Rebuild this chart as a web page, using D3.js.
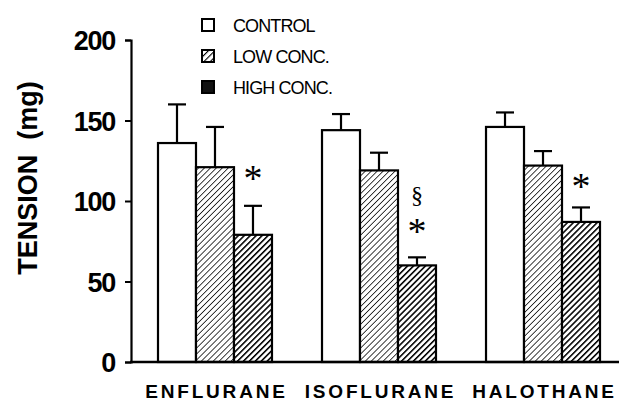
<!DOCTYPE html>
<html>
<head>
<meta charset="utf-8">
<script src="https://cdn.jsdelivr.net/npm/d3@7"></script>
<style>
  body { margin: 0; background: #fff; }
  svg { display: block; }
</style>
</head>
<body>
<div id="chart"></div>
<script>
// data
var drugs = ["ENFLURANE", "ISOFLURANE", "HALOTHANE"];
var series = ["CONTROL", "LOW CONC.", "HIGH CONC."];
var control = [136, 144, 146];
var controlErr = [24, 10, 9];
var low = [121, 119, 122];
var lowErr = [25, 11, 9];
var high = [79, 60, 87];
var highErr = [18, 5, 9];
var yTicks = [0, 50, 100, 150, 200];
// significance marks: [drug index, symbol, value at mark centre]
var marks = [[0, "*", 117], [1, "§", 104], [1, "*", 84], [2, "*", 112]];

var W = 619, H = 402;
var svg = d3.select("#chart").append("svg")
    .attr("width", W).attr("height", H);

var defs = svg.append("defs");
function hatch(id, gap, sw, bg) {
  var p = defs.append("pattern").attr("id", id)
      .attr("patternUnits", "userSpaceOnUse")
      .attr("width", gap).attr("height", gap)
      .attr("patternTransform", "rotate(45)");
  p.append("rect").attr("width", gap).attr("height", gap).attr("fill", bg);
  p.append("line").attr("x1", 0).attr("y1", 0).attr("x2", 0).attr("y2", gap)
      .attr("stroke", "#000").attr("stroke-width", sw);
}
hatch("lowPat", 4.2, 1.5, "#fff");
hatch("highPat", 4.2, 3.1, "#fff");
hatch("lowLeg", 4.5, 2.2, "#fff");

var fills = ["#fff", "url(#lowPat)", "url(#highPat)"];

var y = d3.scaleLinear().domain([0, 200]).range([362, 40]);
var x0 = d3.scaleBand().domain(drugs).range([158, 600]).paddingInner(0.305);
var x1 = d3.scaleBand().domain(series).range([0, x0.bandwidth()]);

// rows of values per drug
var rows = drugs.map(function(d, i) {
  return [
    {drug: d, s: series[0], v: control[i], e: controlErr[i]},
    {drug: d, s: series[1], v: low[i], e: lowErr[i]},
    {drug: d, s: series[2], v: high[i], e: highErr[i]}
  ];
});

var g = svg.append("g");
var grp = g.selectAll(".grp").data(rows).enter().append("g")
    .attr("transform", function(d, i) { return "translate(" + x0(drugs[i]) + ",0)"; });

grp.selectAll("rect").data(function(d) { return d; }).enter().append("rect")
    .attr("x", function(d) { return x1(d.s); })
    .attr("y", function(d) { return y(d.v); })
    .attr("width", x1.bandwidth())
    .attr("height", function(d) { return y(0) - y(d.v); })
    .attr("fill", function(d, i) { return fills[i]; })
    .attr("stroke", "#000").attr("stroke-width", 2.2);

// error bars
var eb = grp.selectAll(".err").data(function(d) { return d; }).enter().append("g");
eb.append("line")
    .attr("x1", function(d) { return x1(d.s) + x1.bandwidth() / 2; })
    .attr("x2", function(d) { return x1(d.s) + x1.bandwidth() / 2; })
    .attr("y1", function(d) { return y(d.v); })
    .attr("y2", function(d) { return y(d.v + d.e); })
    .attr("stroke", "#000").attr("stroke-width", 2.2);
eb.append("line")
    .attr("x1", function(d) { return x1(d.s) + x1.bandwidth() / 2 - 9; })
    .attr("x2", function(d) { return x1(d.s) + x1.bandwidth() / 2 + 9; })
    .attr("y1", function(d) { return y(d.v + d.e); })
    .attr("y2", function(d) { return y(d.v + d.e); })
    .attr("stroke", "#000").attr("stroke-width", 2.2);

// axes
var yAxis = svg.append("g").attr("transform", "translate(131,0)")
    .call(d3.axisLeft(y).tickValues(yTicks).tickSize(6).tickPadding(10));
yAxis.select(".domain").attr("stroke-width", 2.2);
yAxis.selectAll(".tick line").attr("stroke-width", 2);
yAxis.selectAll("text")
    .attr("font-family", "Liberation Sans, Arial, sans-serif")
    .attr("font-weight", "bold").attr("font-size", 27)
    .attr("letter-spacing", -1.3)
    .attr("dy", "0.36em");

svg.append("line").attr("x1", 130).attr("x2", 619)
    .attr("y1", y(0)).attr("y2", y(0))
    .attr("stroke", "#000").attr("stroke-width", 2.4);

svg.selectAll(".xl").data(drugs).enter().append("text")
    .attr("x", function(d) { return x0(d) + x0.bandwidth() / 2 + 1.5; })
    .attr("y", 398)
    .attr("text-anchor", "middle")
    .attr("font-family", "Liberation Sans, Arial, sans-serif")
    .attr("font-weight", "bold").attr("font-size", 19)
    .attr("letter-spacing", 2.8)
    .text(function(d) { return d; });

svg.append("text")
    .attr("transform", "translate(37," + 178 + ") rotate(-90)")
    .attr("text-anchor", "middle")
    .attr("font-family", "Liberation Sans, Arial, sans-serif")
    .attr("font-weight", "bold").attr("font-size", 27)
    .attr("xml:space", "preserve")
    .text("TENSION  (mg)");

// significance marks
svg.selectAll(".sig").data(marks).enter().append("text")
    .attr("x", function(d) { return x0(drugs[d[0]]) + x1(series[2]) + x1.bandwidth() / 2; })
    .attr("y", function(d) { return y(d[2]); })
    .attr("text-anchor", "middle")
    .attr("font-family", "Liberation Serif, Times New Roman, serif")
    .attr("font-size", function(d) { return d[1] == "*" ? 38 : 24; })
    .attr("dy", function(d) { return d[1] == "*" ? "0.45em" : "0.35em"; })
    .text(function(d) { return d[1]; });

// legend
var leg = svg.append("g").selectAll("g").data(series).enter().append("g")
    .attr("transform", function(d, i) { return "translate(202," + (19 + i * 31) + ")"; });
var legFills = ["#fff", "url(#lowLeg)", "#111"];
leg.append("rect").attr("width", 12).attr("height", 12)
    .attr("fill", function(d, i) { return legFills[i]; })
    .attr("stroke", "#000").attr("stroke-width", 2);
leg.append("text").attr("x", 31).attr("y", 12.5)
    .attr("font-family", "Liberation Sans, Arial, sans-serif")
    .attr("font-size", 18).attr("letter-spacing", -0.9)
    .text(function(d) { return d; });
</script>
</body>
</html>
